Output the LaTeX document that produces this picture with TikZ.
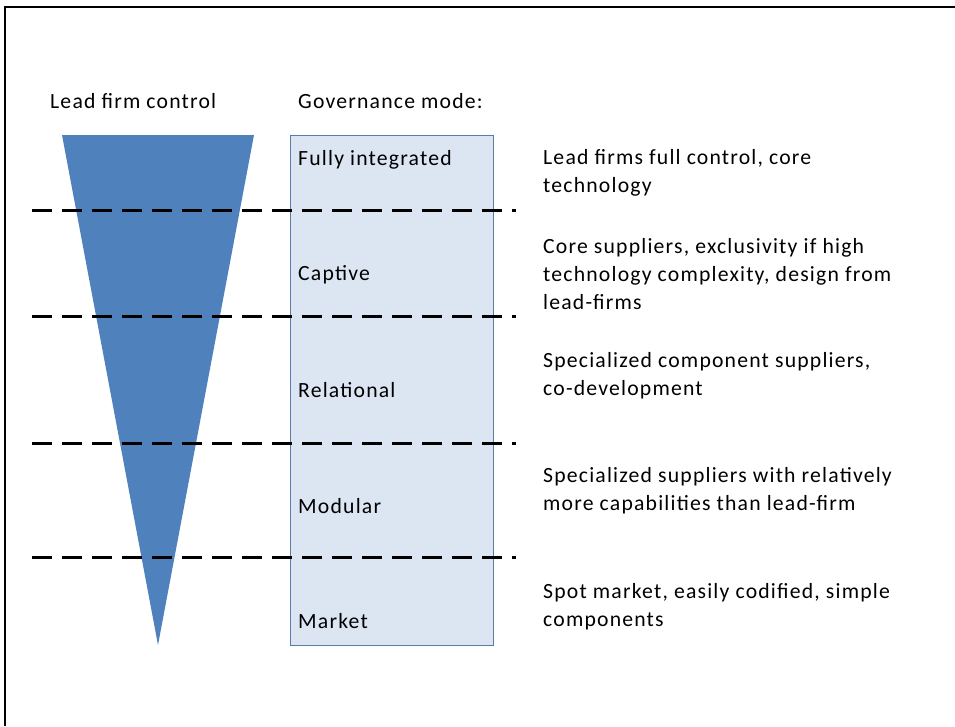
\documentclass[tikz,border=0pt]{standalone}
\usepackage{fontspec}
\setmainfont{Carlito}[LetterSpace=5.5]
\begin{document}
\begin{tikzpicture}[x=1pt,y=-1pt,
  lbl/.style={anchor=west,inner sep=0pt,font=\fontsize{21.7}{28}\selectfont,align=left},
  sep/.style={dashed,dash pattern=on 20pt off 10pt,line width=3pt,black},
  mode/.style={lbl}]
\definecolor{funnel}{HTML}{4F81BD}
\definecolor{boxfill}{HTML}{DCE6F2}
\definecolor{boxline}{HTML}{5A7AAE}
\useasboundingbox (0,0) rectangle (955,726);
% outer frame (top and left edges)
\draw[line width=2pt] (5,726) -- (5,7) -- (955,7);
% funnel
\fill[funnel] (62,135) -- (254,135) -- (158,645) -- cycle;
% governance column
\node[draw=boxline,fill=boxfill,line width=1.2pt,minimum width=203pt,minimum height=510pt,inner sep=0pt,anchor=north west] (col) at (290,135) {};
% headers
\node[lbl] (hlead) at (50,101) {Lead firm control};
\node[lbl] (hgov) at (298,101) {Governance mode:};
% mode names
\node[mode] (m1) at (298,160) {Fully integrated};
\node[mode] (m2) at (298,275) {Captive};
\node[mode] (m3) at (298,390) {Relational};
\node[mode] (m4) at (298,506) {Modular};
\node[mode] (m5) at (298,621) {Market};
% descriptions
\node[lbl] (d1) at (543,173) {Lead firms full control, core\\technology};
\node[lbl] (d2) at (543,274) {Core suppliers, exclusivity if high\\technology complexity, design from\\lead-firms};
\node[lbl] (d3) at (543,376) {Specialized component suppliers,\\co-development};
\node[lbl] (d4) at (543,491) {Specialized suppliers with relatively\\more capabilities than lead-firm};
\node[lbl] (d5) at (543,607) {Spot market, easily codified, simple\\components};
% separators
\coordinate (s1a) at (32,210); \coordinate (s1b) at (516,210);
\coordinate (s2a) at (32,316); \coordinate (s2b) at (516,316);
\coordinate (s3a) at (32,443); \coordinate (s3b) at (516,443);
\coordinate (s4a) at (32,557); \coordinate (s4b) at (516,557);
\draw[sep] (s1a) -- (s1b);
\draw[sep] (s2a) -- (s2b);
\draw[sep] (s3a) -- (s3b);
\draw[sep] (s4a) -- (s4b);
\end{tikzpicture}
\end{document}
